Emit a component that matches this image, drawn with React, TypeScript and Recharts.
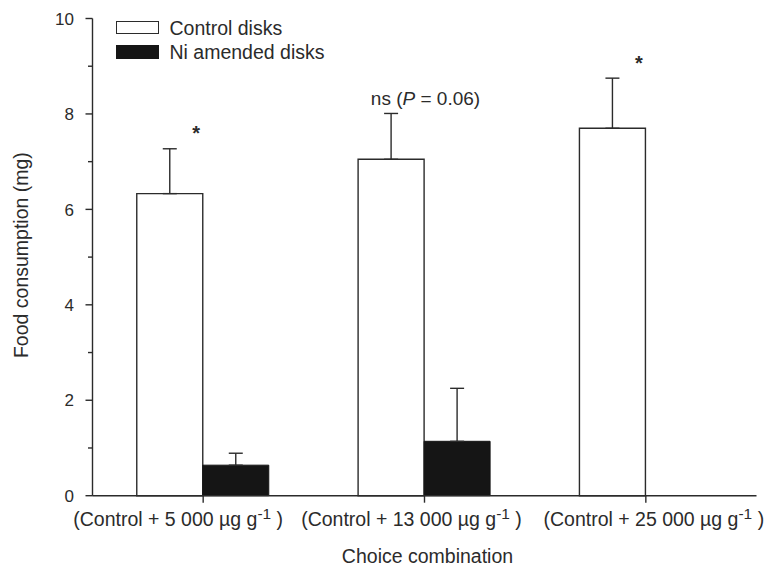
import React from "react";
import { Bar, BarChart, ErrorBar, Label, Legend, ReferenceDot, XAxis, YAxis } from "recharts";

// values (mg)
const doses = ["5 000", "13 000", "25 000"];
const controlMeans = [6.33, 7.05, 7.7];
const controlErrors = [0.94, 0.96, 1.05];
const niMeans = [0.64, 1.14, null];
const niErrors = [0.25, 1.11, null];
const notes = ["*", "ns", "*"];
const yTicks = [0, 1, 2, 3, 4, 5, 6, 7, 8, 9, 10];

const INK = "#2b2b2b";
const FONT = "'Liberation Sans', Arial, Helvetica, sans-serif";
// the original's category labels are not centred on their groups
const tickNudge = [-25, -13, 8];

const data = doses.map((dose, i) => ({
  dose,
  control: controlMeans[i],
  controlErr: [0, controlErrors[i]],
  ni: niMeans[i],
  niErr: niErrors[i] == null ? null : [0, niErrors[i]],
}));

function YTick({ x, y, payload }: any) {
  const major = payload.value % 2 === 0;
  return (
    <g>
      <line x1={x - (major ? 7 : 4.5)} x2={x} y1={y} y2={y} stroke={INK} strokeWidth={1.4} />
      {major && (
        <text x={x - 18.5} y={y} dy="0.36em" textAnchor="end" fontSize={17} fill={INK} fontFamily={FONT}>
          {payload.value}
        </text>
      )}
    </g>
  );
}

function XTick({ x, y, payload, index }: any) {
  return (
    <text x={x + (tickNudge[index] ?? 0)} y={y + 23.5} textAnchor="middle" fontSize={19.5} fill={INK} fontFamily={FONT}>
      <tspan>{`(Control + ${payload.value} µg g`}</tspan>
      <tspan dy={-7.5} fontSize={15.5}>-1</tspan>
      <tspan dy={7.5}>{"  )"}</tspan>
    </text>
  );
}

function NoteLabel({ viewBox, text }: any) {
  const cx = viewBox.x + viewBox.width / 2;
  const cy = viewBox.y + viewBox.height / 2;
  if (text === "ns") {
    return (
      <text x={cx + 1} y={cy - 8} textAnchor="middle" fontSize={19} fill={INK} fontFamily={FONT}>
        ns (<tspan fontStyle="italic">P</tspan> = 0.06)
      </text>
    );
  }
  return (
    <text x={cx - 7} y={cy - 8.5} textAnchor="middle" fontSize={20} fontWeight="bold" fill={INK} fontFamily={FONT}>
      {text}
    </text>
  );
}

function LegendBox({ payload }: any) {
  return (
    <div style={{ fontFamily: FONT, fontSize: 19.5, color: INK }}>
      {(payload || []).map((entry: any) => (
        <div key={entry.value} style={{ display: "flex", alignItems: "center", height: 24.3 }}>
          <span
            style={{
              display: "inline-block",
              boxSizing: "border-box",
              width: 43,
              height: 13.6,
              background: entry.color,
              border: `1.4px solid ${entry.color === "#ffffff" ? INK : entry.color}`,
              marginRight: 10.5,
            }}
          />
          <span style={{ lineHeight: "24px", whiteSpace: "nowrap" }}>{entry.value}</span>
        </div>
      ))}
    </div>
  );
}

export default function App() {
  return (
    <div style={{ position: "absolute", left: 0, top: 0, width: 767, height: 568, background: "#fff" }}>
      <BarChart
        width={767}
        height={568}
        data={data}
        margin={{ top: 18.5, right: 10.5, left: 0, bottom: 0 }}
        barCategoryGap="20%"
        barGap={0}
      >
        <XAxis
          dataKey="dose"
          height={72.3}
          stroke={INK}
          strokeWidth={1.4}
          tickSize={7}
          tickMargin={0}
          tick={<XTick />}
          tickLine={{ stroke: INK, strokeWidth: 1.4 }}
          axisLine={{ stroke: INK, strokeWidth: 1.4 }}
        >
          <Label
            content={({ viewBox }: any) => (
              <text
                x={viewBox.x + viewBox.width / 2 + 3}
                y={viewBox.y + 67.5}
                textAnchor="middle"
                fontSize={19.5}
                fill={INK}
                fontFamily={FONT}
              >
                Choice combination
              </text>
            )}
          />
        </XAxis>
        <YAxis
          width={92.5}
          domain={[0, 10]}
          ticks={yTicks}
          interval={0}
          tickSize={0}
          tickMargin={0}
          tickLine={false}
          tick={<YTick />}
          axisLine={{ stroke: INK, strokeWidth: 1.4 }}
        >
          <Label
            content={({ viewBox }: any) => {
              const cy = viewBox.y + viewBox.height / 2 - 2;
              return (
                <text
                  x={28.3}
                  y={cy}
                  transform={`rotate(-90, 28.3, ${cy})`}
                  textAnchor="middle"
                  fontSize={19.5}
                  fill={INK}
                  fontFamily={FONT}
                >
                  Food consumption (mg)
                </text>
              );
            }}
          />
        </YAxis>
        <Legend
          layout="horizontal"
          verticalAlign="middle"
          align="center"
          wrapperStyle={{ left: 116, top: 15.4, width: "auto" }}
          content={<LegendBox />}
        />
        <Bar dataKey="control" name="Control disks" fill="#ffffff" stroke={INK} strokeWidth={1.4} isAnimationActive={false}>
          <ErrorBar dataKey="controlErr" direction="y" width={7} stroke={INK} strokeWidth={1.4} isAnimationActive={false} />
        </Bar>
        <Bar dataKey="ni" name="Ni amended disks" fill="#151515" stroke="#151515" strokeWidth={1} isAnimationActive={false}>
          <ErrorBar dataKey="niErr" direction="y" width={7} stroke={INK} strokeWidth={1.4} isAnimationActive={false} />
        </Bar>
        {doses.map((d, i) => (
          <ReferenceDot
            key={d}
            x={d}
            y={controlMeans[i] + controlErrors[i]}
            r={0}
            fill="none"
            stroke="none"
            label={<NoteLabel text={notes[i]} />}
          />
        ))}
      </BarChart>
    </div>
  );
}
